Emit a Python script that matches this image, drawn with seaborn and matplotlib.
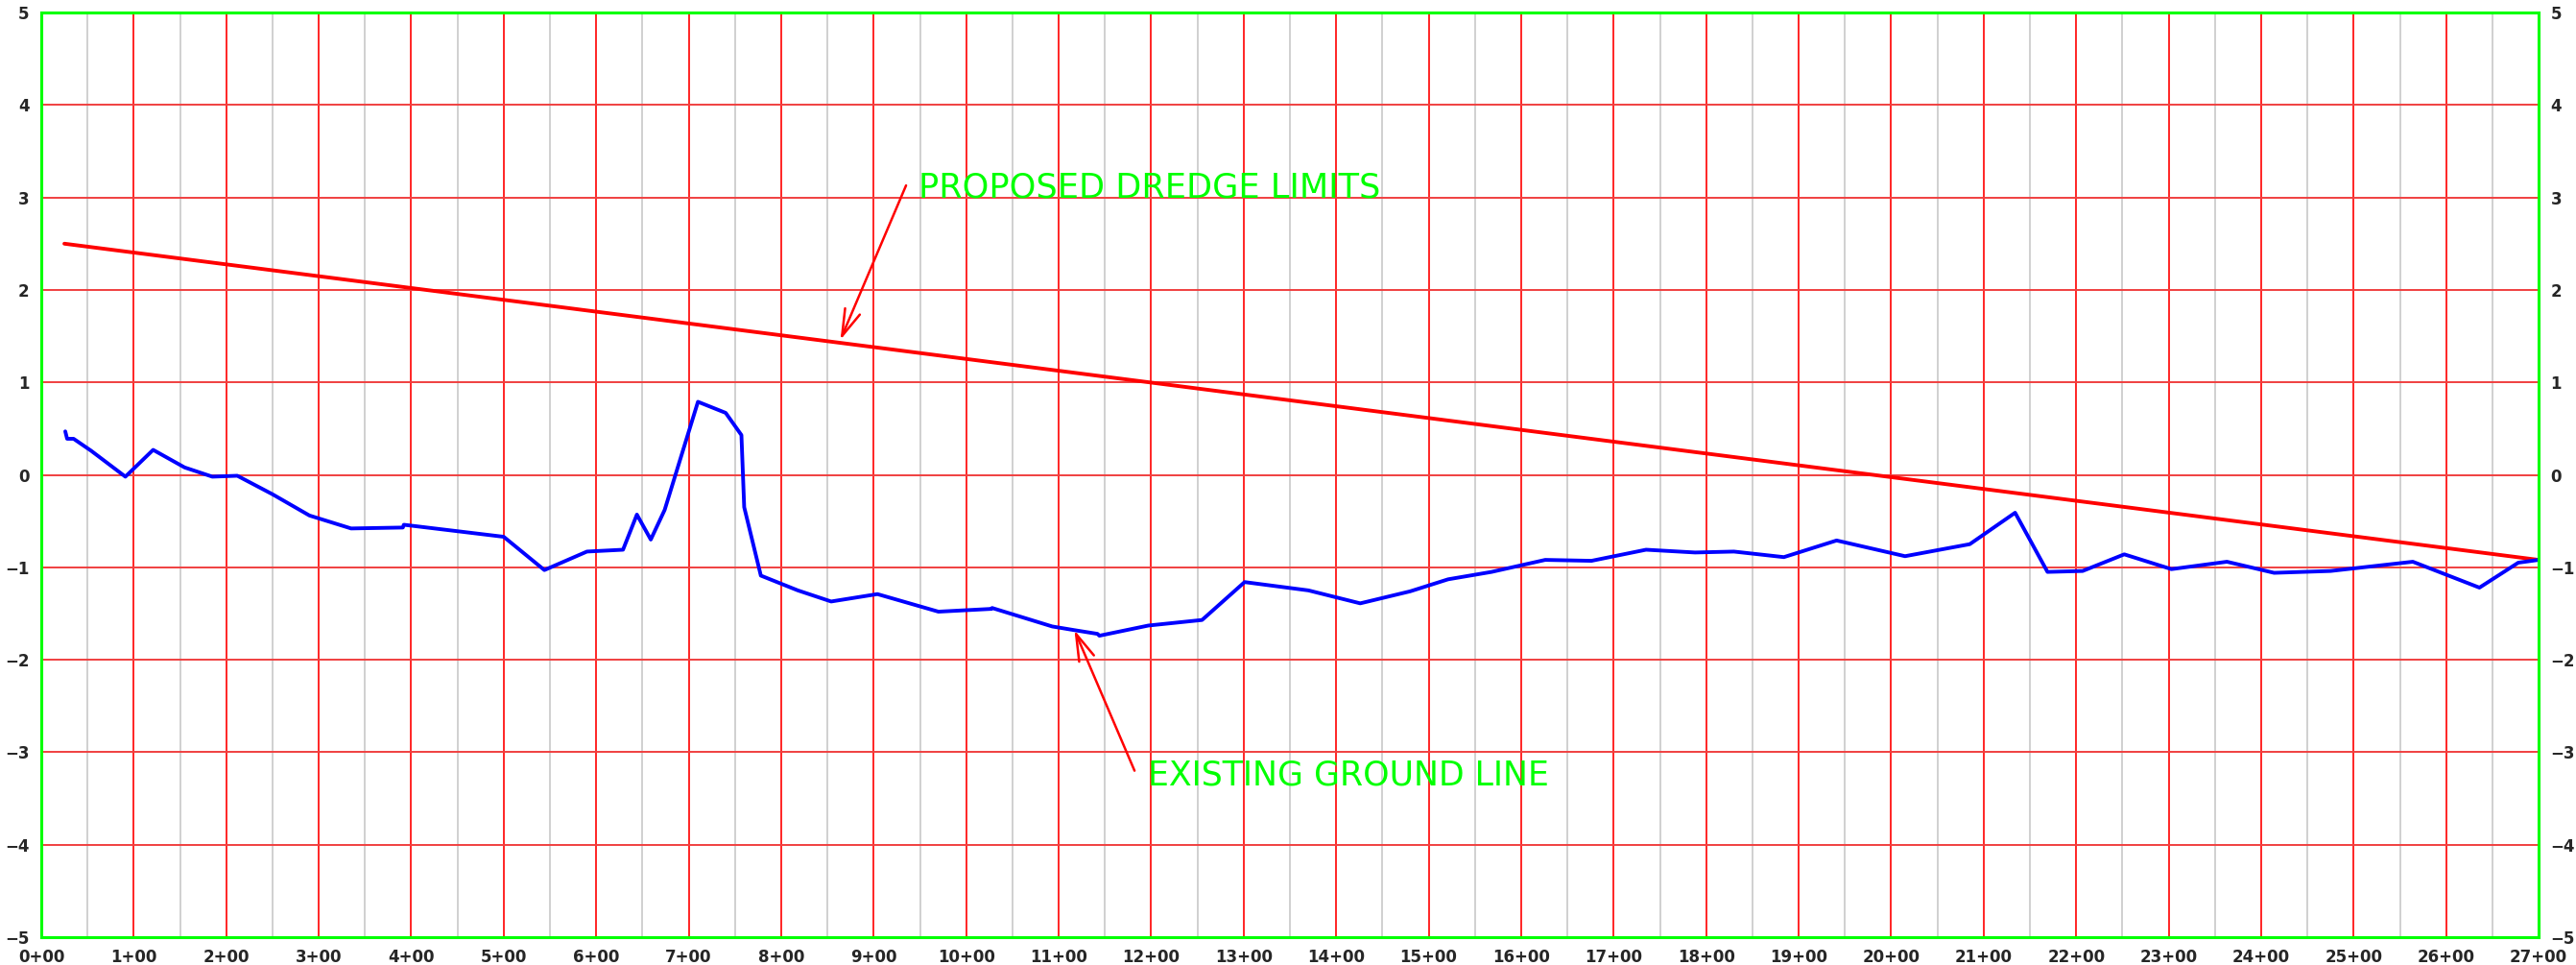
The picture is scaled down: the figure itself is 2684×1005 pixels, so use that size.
import pandas as pd
import matplotlib.pyplot as plt
import seaborn as sns

# --- Profile data (stations in hundreds of feet, elevations in feet) ---
ground_sta = [0.26, 0.28, 0.35, 0.54, 0.91, 1.21, 1.55, 1.85, 2.12, 2.50,
              2.90, 3.35, 3.91, 3.92, 5.00, 5.44, 5.90, 6.29, 6.44, 6.59,
              6.74, 7.10, 7.40, 7.57, 7.60, 7.78, 8.18, 8.54, 9.04, 9.70,
              10.27, 10.28, 10.93, 11.17, 11.42, 11.44, 11.97, 12.55, 13.01, 13.70,
              14.26, 14.80, 15.21, 15.68, 16.26, 16.76, 17.35, 17.88, 18.30, 18.84,
              19.41, 20.15, 20.85, 21.34, 21.69, 22.07, 22.52, 23.03, 23.63, 24.14,
              24.75, 25.64, 26.36, 26.78, 27.00]
ground_elev = [0.47, 0.39, 0.39, 0.26, -0.02, 0.27, 0.08, -0.02, -0.01, -0.21,
               -0.44, -0.58, -0.57, -0.54, -0.67, -1.03, -0.83, -0.81, -0.43, -0.70,
               -0.38, 0.79, 0.67, 0.43, -0.35, -1.09, -1.25, -1.37, -1.29, -1.48,
               -1.45, -1.44, -1.64, -1.68, -1.72, -1.74, -1.63, -1.57, -1.16, -1.25,
               -1.39, -1.26, -1.13, -1.05, -0.92, -0.93, -0.81, -0.84, -0.83, -0.89,
               -0.71, -0.88, -0.75, -0.41, -1.05, -1.04, -0.86, -1.02, -0.94, -1.06,
               -1.04, -0.94, -1.22, -0.95, -0.92]

dredge_sta = [0.25, 27.00]
dredge_elev = [2.50, -0.92]

x_ticks = list(range(0, 28))
x_labels = [f"{i}+00" for i in x_ticks]
y_ticks = list(range(-5, 6))

ground = pd.DataFrame({"sta": ground_sta, "elev": ground_elev})
dredge = pd.DataFrame({"sta": dredge_sta, "elev": dredge_elev})

sns.set_style("white")
plt.rcParams['font.family'] = ['DejaVu Sans']

fig = plt.figure(figsize=(26.84, 10.05), dpi=100)
ax = fig.add_axes([0.016, 0.0289, 0.9695, 0.9581])

# --- Grid ---
for i in range(27):
    ax.axvline(i + 0.5, color="#c8c8c8", lw=1.2, zorder=1)
for i in range(1, 27):
    ax.axvline(i, color="#ff0000", lw=1.2, zorder=1.5)
for j in range(-4, 5):
    ax.axhline(j, color="#f04040", lw=1.4, zorder=1.5)

# --- Lines ---
sns.lineplot(data=dredge, x="sta", y="elev", color="#ff0000", lw=2.8,
             sort=False, estimator=None, ax=ax, zorder=3)
sns.lineplot(data=ground, x="sta", y="elev", color="#0000ff", lw=2.8,
             sort=False, estimator=None, ax=ax, zorder=3)

# --- Annotations ---
arrow = dict(arrowstyle="->,head_length=1.0,head_width=0.3", color="#ff0000",
             lw=1.8, shrinkA=0, shrinkB=0, mutation_scale=20)
ax.annotate("", xy=(8.64, 1.46), xytext=(9.35, 3.13), arrowprops=arrow, zorder=4)
ax.annotate("", xy=(11.17, -1.68), xytext=(11.82, -3.20), arrowprops=arrow, zorder=4)
ax.text(9.48, 3.0, "PROPOSED DREDGE LIMITS", color="#00ff00", fontsize=25.3,
        va="baseline", ha="left", zorder=4)
ax.text(11.96, -3.35, "EXISTING GROUND LINE", color="#00ff00", fontsize=25.0,
        va="baseline", ha="left", zorder=4)

# --- Axes ---
ax.set_xlim(0, 27)
ax.set_ylim(-5, 5)
ax.set_xticks(x_ticks)
ax.set_xticklabels(x_labels)
ax.set_yticks(y_ticks)
ax.tick_params(axis="both", length=0, labelsize=12, pad=9)
ax.tick_params(axis="y", labelleft=True, labelright=True)
for lab in ax.get_xticklabels() + ax.get_yticklabels():
    lab.set_fontweight("bold")
ax.set_xlabel("")
ax.set_ylabel("")
for sp in ax.spines.values():
    sp.set_color("#00ff00")
    sp.set_linewidth(2.2)
    sp.set_zorder(5)

fig.savefig("out.png", dpi=100)
